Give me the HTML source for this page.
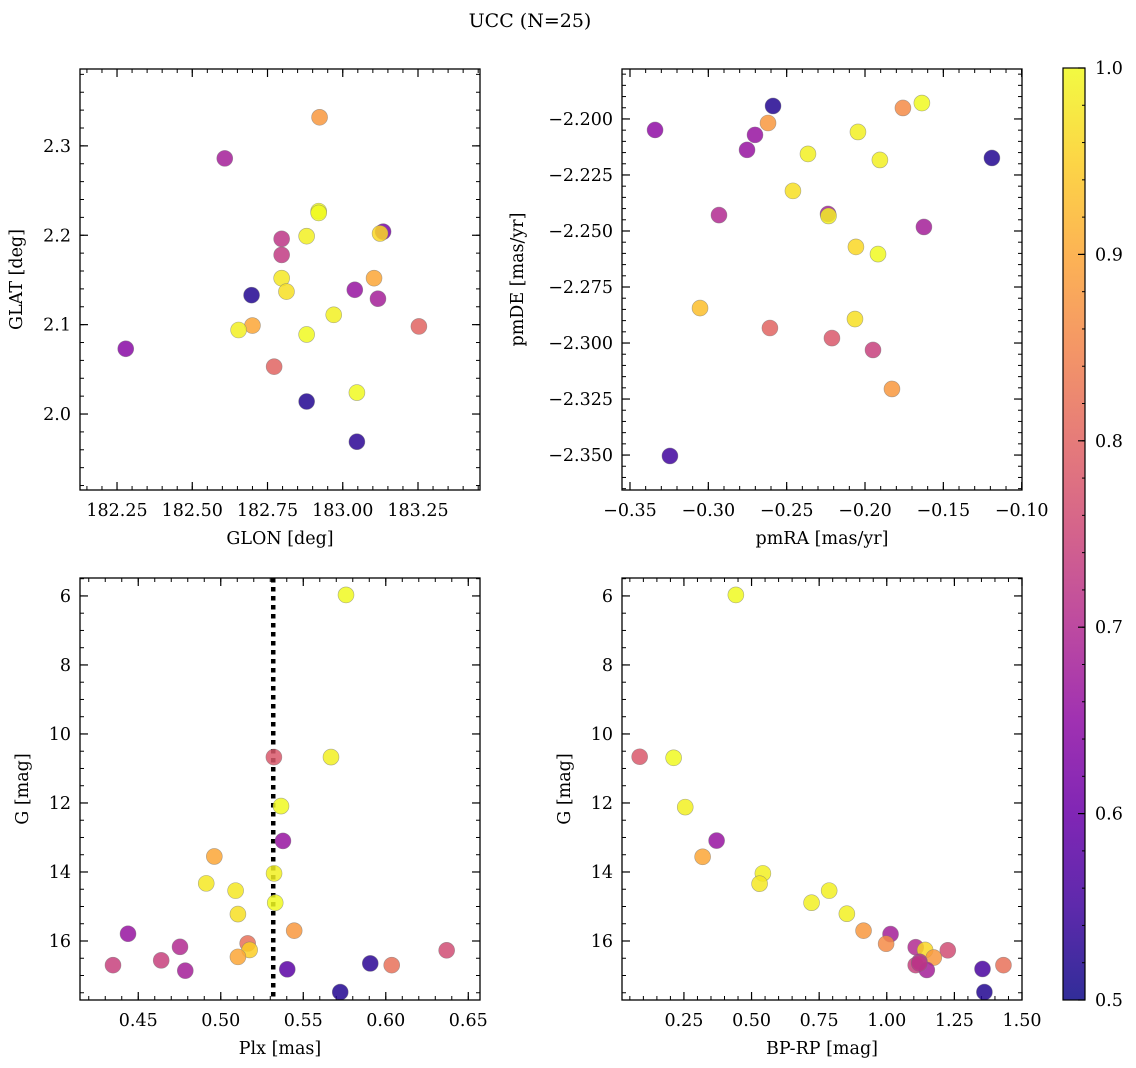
<!DOCTYPE html>
<html><head><meta charset="utf-8"><style>
html,body{margin:0;padding:0;background:#fff}
svg{display:block;font-family:"DejaVu Serif","Liberation Serif",serif}
</style></head><body>
<svg id="fig" width="1136" height="1068" viewBox="0 0 1136 1068">
<text x="530" y="27" font-size="19" text-anchor="middle">UCC (N=25)</text>
</svg>
<script>
// ---- data ----
const tlLon=[182.923,182.608,183.134,183.124,182.92,182.92,182.797,182.88,182.797,183.104,182.797,182.813,182.697,183.04,183.117,182.279,182.70,182.654,182.88,182.97,183.253,182.772,183.047,182.88,183.047];
const tlLat=[2.332,2.286,2.204,2.202,2.227,2.225,2.196,2.199,2.178,2.152,2.152,2.137,2.133,2.139,2.129,2.073,2.099,2.094,2.089,2.111,2.098,2.053,2.024,2.014,1.969];
const tlC=[0.88,0.68,0.62,0.96,1.0,1.0,0.72,0.99,0.73,0.9,0.98,0.97,0.52,0.66,0.68,0.64,0.9,0.99,1.0,0.99,0.8,0.8,1.0,0.52,0.53];
const trRA=[-0.334,-0.2587,-0.2619,-0.1758,-0.1637,-0.2702,-0.2753,-0.2045,-0.2364,-0.1905,-0.119,-0.246,-0.2932,-0.2236,-0.2233,-0.1624,-0.2058,-0.1917,-0.3053,-0.2064,-0.2607,-0.2211,-0.1949,-0.1828,-0.3245];
const trDE=[-2.2049,-2.1942,-2.2018,-2.1951,-2.1929,-2.2071,-2.2138,-2.2058,-2.2156,-2.2183,-2.2174,-2.2321,-2.2429,-2.2424,-2.2433,-2.2482,-2.2571,-2.2603,-2.2844,-2.2893,-2.2933,-2.2978,-2.3031,-2.3205,-2.3504];
const trC=[0.65,0.52,0.88,0.86,1.0,0.66,0.66,0.99,0.99,0.99,0.52,0.97,0.7,0.68,0.99,0.68,0.96,1.0,0.93,0.97,0.8,0.78,0.74,0.88,0.55];
const blPlx=[0.5759,0.5322,0.5668,0.5365,0.5377,0.4961,0.5323,0.4912,0.5090,0.5330,0.5104,0.5445,0.4438,0.5163,0.4753,0.5175,0.6369,0.5104,0.4639,0.5906,0.6036,0.4347,0.4785,0.5403,0.5724];
const blG=[5.97,10.67,10.67,12.09,13.10,13.55,14.04,14.33,14.54,14.89,15.22,15.70,15.79,16.07,16.17,16.26,16.27,16.46,16.56,16.65,16.70,16.70,16.86,16.82,17.48];
const blC=[1.0,0.78,0.99,1.0,0.66,0.9,0.99,0.98,0.98,1.0,0.97,0.88,0.66,0.82,0.7,0.95,0.76,0.9,0.74,0.53,0.82,0.74,0.68,0.58,0.52];
const brBPRP=[0.442,0.0863,0.2119,0.2548,0.3708,0.3191,0.5419,0.5297,0.7870,0.7219,0.8524,0.9141,1.0139,0.9976,1.107,1.1418,1.2256,1.1739,1.107,1.121,1.148,1.354,1.4314,1.361,1.12];
const brG=[5.97,10.66,10.69,12.12,13.09,13.56,14.04,14.34,14.54,14.89,15.21,15.70,15.80,16.08,16.18,16.26,16.27,16.48,16.70,16.60,16.84,16.81,16.70,17.48,16.65];
const brC=[1.0,0.78,1.0,0.99,0.66,0.9,0.99,0.98,0.99,0.99,0.99,0.88,0.68,0.86,0.7,0.96,0.76,0.88,0.74,0.7,0.68,0.56,0.82,0.52,0.72];
const plxRef=0.5318;
const cbTicks=[0.5,0.6,0.7,0.8,0.9,1.0];

const NS='http://www.w3.org/2000/svg';
const fig=document.getElementById('fig');
function mk(tag,attrs,parent){const e=document.createElementNS(NS,tag);for(const k in attrs)e.setAttribute(k,attrs[k]);(parent||fig).appendChild(e);return e;}
const stops=['#0d0887','#41049d','#6a00a8','#8f0da4','#b12a90','#cc4778','#e16462','#f2844b','#fca636','#fcce25','#f0f921'];
function hx(h){return [1,3,5].map(i=>parseInt(h.substr(i,2),16));}
function plasma(t){t=Math.max(0,Math.min(1,t));const f=t*10,i=Math.min(9,Math.floor(f)),u=f-i;const a=hx(stops[i]),b=hx(stops[i+1]);return 'rgb('+a.map((v,k)=>Math.round(v+(b[k]-v)*u)).join(',')+')';}
function cmap(v){return plasma((v-0.5)/0.5);}
function fmt(v,d){const s=Math.abs(v).toFixed(d);return (v<-1e-9?'\u2212':'')+s;}
const FS=17.5;

function panel(o){
  const g=mk('g',{});
  
  
  const X=v=>o.x0+(v-o.xd[0])/(o.xd[1]-o.xd[0])*(o.x1-o.x0);
  const Y=o.yinv? v=>o.y0+(v-o.yd[0])/(o.yd[1]-o.yd[0])*(o.y1-o.y0) : v=>o.y1-(v-o.yd[0])/(o.yd[1]-o.yd[0])*(o.y1-o.y0);
  function ticks(step,lo,hi){const r=[];const s=Math.ceil(lo/step-1e-6);for(let k=s;k*step<=hi+1e-9;k++)r.push(+(k*step).toFixed(6));return r;}
  const xlo=Math.min(...o.xd),xhi=Math.max(...o.xd),ylo=Math.min(...o.yd),yhi=Math.max(...o.yd);
  ticks(o.xmin,xlo,xhi).forEach(v=>{const x=X(v);mk('line',{x1:x,x2:x,y1:o.y1,y2:o.y1-4,stroke:'#000','stroke-width':1},g);mk('line',{x1:x,x2:x,y1:o.y0,y2:o.y0+4,stroke:'#000','stroke-width':1},g);});
  ticks(o.ymin,ylo,yhi).forEach(v=>{const y=Y(v);mk('line',{x1:o.x0,x2:o.x0+4,y1:y,y2:y,stroke:'#000','stroke-width':1},g);mk('line',{x1:o.x1,x2:o.x1-4,y1:y,y2:y,stroke:'#000','stroke-width':1},g);});
  ticks(o.xmaj,xlo,xhi).forEach(v=>{const x=X(v);mk('line',{x1:x,x2:x,y1:o.y1,y2:o.y1-8,stroke:'#000','stroke-width':1.2},g);mk('line',{x1:x,x2:x,y1:o.y0,y2:o.y0+8,stroke:'#000','stroke-width':1.2},g);
    const t=mk('text',{x:x,y:o.y1+26,'font-size':FS,'text-anchor':'middle'},g);t.textContent=fmt(v,o.xdec);
    
    });
  ticks(o.ymaj,ylo,yhi).forEach(v=>{const y=Y(v);mk('line',{x1:o.x0,x2:o.x0+8,y1:y,y2:y,stroke:'#000','stroke-width':1.2},g);mk('line',{x1:o.x1,x2:o.x1-8,y1:y,y2:y,stroke:'#000','stroke-width':1.2},g);
    const t=mk('text',{x:o.x0-9,y:y+6,'font-size':FS,'text-anchor':'end'},g);t.textContent=fmt(v,o.ydec);
    
    });
  if(o.vline!==undefined){const l=mk('line',{x1:X(o.vline),x2:X(o.vline),y1:o.y0,y2:o.y1,stroke:'#000','stroke-width':4.5,'stroke-dasharray':'4.5 4.5'},g);
    
    }
  o.xs.forEach((v,i)=>{const c=mk('circle',{cx:X(v),cy:Y(o.ys[i]),r:8,fill:cmap(o.cs[i]),'fill-opacity':0.85,stroke:'#777','stroke-opacity':0.6,'stroke-width':0.6},g);
    
    });
  const fr=mk('rect',{x:o.x0,y:o.y0,width:o.x1-o.x0,height:o.y1-o.y0,fill:'none',stroke:'#000','stroke-width':1.3},g);
  
  
  const xl=mk('text',{x:(o.x0+o.x1)/2,y:o.y1+54,'font-size':FS,'text-anchor':'middle'},g);xl.textContent=o.xlabel;
  
  
  const yc=(o.y0+o.y1)/2;
  const yl=mk('text',{x:o.ylx,y:yc,'font-size':FS,'text-anchor':'middle',transform:`rotate(-90 ${o.ylx} ${yc})`},g);yl.textContent=o.ylabel;
  
  
}
panel({name:'glon-glat-panel',x0:80,x1:480,y0:69,y1:490,xd:[182.127,183.456],yd:[1.915,2.386],xmaj:0.25,xmin:0.05,ymaj:0.1,ymin:0.02,xdec:2,ydec:1,xs:tlLon,ys:tlLat,cs:tlC,xlabel:'GLON [deg]',ylabel:'GLAT [deg]',ylx:22});
panel({name:'pm-panel',x0:622,x1:1022,y0:69,y1:490,xd:[-0.3551,-0.0998],yd:[-2.3656,-2.1777],xmaj:0.05,xmin:0.01,ymaj:0.025,ymin:0.005,xdec:2,ydec:3,xs:trRA,ys:trDE,cs:trC,xlabel:'pmRA [mas/yr]',ylabel:'pmDE [mas/yr]',ylx:523});
panel({name:'plx-g-panel',x0:80,x1:480,y0:578,y1:1000,xd:[0.4147,0.6571],yd:[5.48,17.71],yinv:true,xmaj:0.05,xmin:0.01,ymaj:2,ymin:0.5,xdec:2,ydec:0,xs:blPlx,ys:blG,cs:blC,vline:plxRef,xlabel:'Plx [mas]',ylabel:'G [mag]',ylx:28});
panel({name:'cmd-panel',x0:622,x1:1022,y0:578,y1:1000,xd:[0.021,1.5],yd:[5.48,17.71],yinv:true,xmaj:0.25,xmin:0.05,ymaj:2,ymin:0.5,xdec:2,ydec:0,xs:brBPRP,ys:brG,cs:brC,xlabel:'BP-RP [mag]',ylabel:'G [mag]',ylx:570});

// colorbar
const cb=mk('g',{});


const defs=mk('defs',{},cb);
const grad=mk('linearGradient',{id:'cbg',x1:0,y1:1,x2:0,y2:0},defs);
for(let i=0;i<=10;i++)mk('stop',{offset:i/10,'stop-color':stops[i],'stop-opacity':0.85},grad);
const cbx0=1063,cbx1=1085,cby0=68,cby1=1000;
mk('rect',{x:cbx0,y:cby0,width:cbx1-cbx0,height:cby1-cby0,fill:'url(#cbg)',stroke:'#000','stroke-width':1.2},cb);
const CY=v=>cby1-(v-0.5)/0.5*(cby1-cby0);
for(let k=0;k<=25;k++){const v=0.5+k*0.02,y=CY(v);mk('line',{x1:cbx1,x2:cbx1-3,y1:y,y2:y,stroke:'#000','stroke-width':1},cb);}
cbTicks.forEach(v=>{const y=CY(v);mk('line',{x1:cbx1,x2:cbx1-7,y1:y,y2:y,stroke:'#000','stroke-width':1.2},cb);
  const t=mk('text',{x:cbx1+10,y:y+6,'font-size':FS},cb);t.textContent=v.toFixed(1);
  
  });
</script>
</body></html>
